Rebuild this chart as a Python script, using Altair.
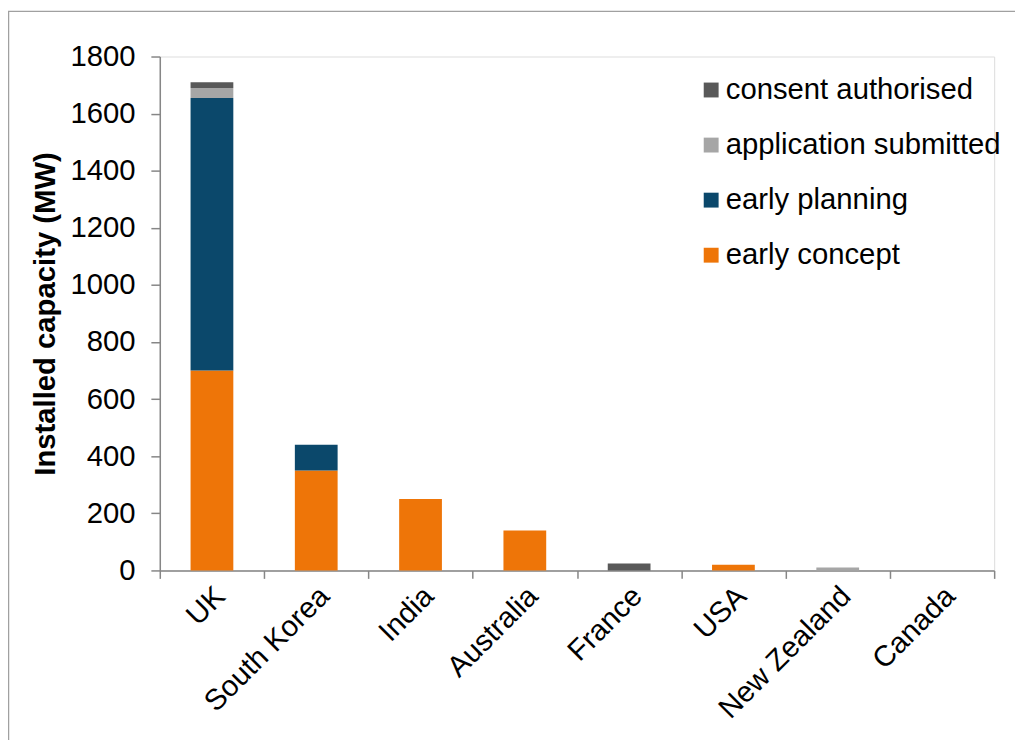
import altair as alt
import pandas as pd

countries = ["UK", "South Korea", "India", "Australia", "France", "USA", "New Zealand", "Canada"]
early_concept = [700, 350, 250, 140, 0, 20, 0, 0]
early_planning = [955, 90, 0, 0, 0, 0, 0, 0]
application_submitted = [35, 0, 0, 0, 0, 0, 10, 0]
consent_authorised = [20, 0, 0, 0, 24, 0, 0, 0]

stages = ["consent authorised", "application submitted", "early planning", "early concept"]
stage_colors = ["#595959", "#A6A6A6", "#0B486B", "#EE7508"]
y_ticks = [0, 200, 400, 600, 800, 1000, 1200, 1400, 1600, 1800]

series = {
    "early concept": early_concept,
    "early planning": early_planning,
    "application submitted": application_submitted,
    "consent authorised": consent_authorised,
}
stack_order = {"early concept": 0, "early planning": 1, "application submitted": 2, "consent authorised": 3}

rows = []
for stage, vals in series.items():
    for c, v in zip(countries, vals):
        rows.append({"country": c, "stage": stage, "value": v, "ord": stack_order[stage]})
df = pd.DataFrame(rows)

FONT = "Liberation Sans"
FS = 29.5
W, H = 841, 518

bars = alt.Chart(df).mark_bar(width=alt.RelativeBandSize(0.41)).encode(
    x=alt.X("country:N", sort=countries,
            scale=alt.Scale(paddingInner=0, paddingOuter=0),
            axis=alt.Axis(title=None, labelAngle=-45, labelAlign="right", labelBaseline="middle",
                          labelFontSize=FS, labelPadding=13, labelOffset=8, tickBand="extent",
                          tickSize=8, tickColor="#868686", tickWidth=1.5, domainColor="#868686",
                          domainWidth=1.5, labelColor="black", labelFont=FONT)),
    y=alt.Y("value:Q", stack="zero",
            scale=alt.Scale(domain=[0, 1800], nice=False),
            axis=alt.Axis(title="Installed capacity (MW)", values=y_ticks, grid=False, format="d",
                          labelFontSize=FS, labelPadding=16, tickSize=9, tickColor="#868686",
                          tickWidth=1.5, domainColor="#868686", domainWidth=1.5,
                          titleFontSize=FS, titleFontWeight="bold", titlePadding=9,
                          labelColor="black", titleColor="black", labelFont=FONT, titleFont=FONT)),
    color=alt.Color("stage:N", scale=alt.Scale(domain=stages, range=stage_colors),
                    legend=alt.Legend(title=None, orient="none", legendX=541, legendY=19,
                                      symbolType="square", symbolSize=225, symbolStrokeWidth=0,
                                      labelFontSize=FS, labelFont=FONT, labelColor="black",
                                      rowPadding=24.5, labelOffset=0, labelLimit=400)),
    order=alt.Order("ord:Q", sort="ascending"),
)

border = alt.Chart(alt.Data(values=[{}])).mark_rect(
    fill=None, stroke="#A0A0A0", strokeWidth=1.5
).encode(
    x=alt.value(-152.5), x2=alt.value(2000), y=alt.value(-45.5), y2=alt.value(2000)
)

chart = alt.layer(border, bars).properties(
    width=W, height=H,
    autosize=alt.AutoSizeParams(type="none"),
    padding={"left": 153, "top": 46, "right": 21, "bottom": 168},
).configure_view(
    stroke="#868686", strokeWidth=1.5
).configure(font=FONT)

chart.save("out.html", embed_options={"renderer": "svg", "actions": False})
